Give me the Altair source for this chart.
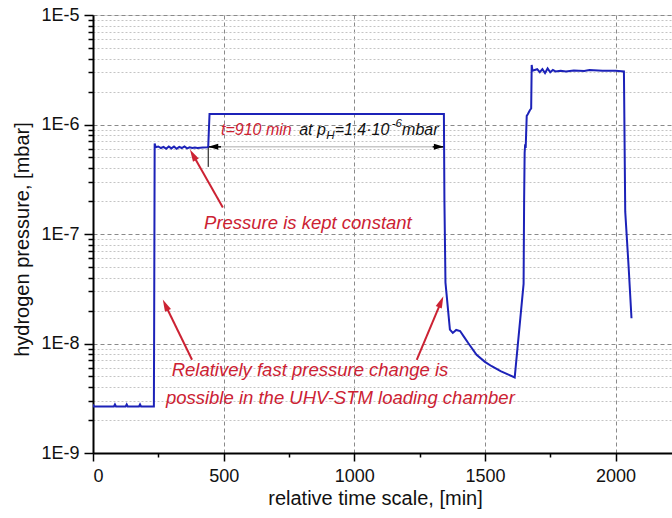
import math
import altair as alt
import pandas as pd

# ---------------- data ----------------
time_min = [0, 3, 80, 84, 88, 125, 129, 133, 176, 180, 184, 233, 234, 236, 240,
            250, 260, 270, 280, 290, 300, 310, 320, 330, 340, 350, 360, 370, 380,
            390, 400, 420, 438, 441, 446, 1343, 1345, 1349, 1366, 1377, 1390, 1405,
            1420, 1436, 1468, 1500, 1526, 1560, 1590, 1614, 1648, 1650, 1652, 1654,
            1656, 1660, 1664, 1672, 1677, 1679, 1682, 1700, 1710, 1720, 1730, 1740,
            1750, 1760, 1770, 1790, 1810, 1840, 1880, 1900, 1950, 2000, 2032, 2037,
            2050, 2061]
pressure_mbar = [2.78e-9, 2.66e-9, 2.66e-9, 2.78e-9, 2.66e-9, 2.66e-9, 2.78e-9, 2.66e-9,
                 2.66e-9, 2.78e-9, 2.66e-9, 2.66e-9, 1.3e-8, 6.7e-7, 6.2e-7,
                 6.3e-7, 6.1e-7, 6.25e-7, 6.0e-7, 6.3e-7, 6.05e-7, 6.3e-7, 6.0e-7,
                 6.25e-7, 6.1e-7, 6.3e-7, 6.05e-7, 6.2e-7, 6.1e-7, 6.15e-7, 6.1e-7,
                 6.15e-7, 6.2e-7, 6.3e-7, 1.25e-6, 1.25e-6, 2.0e-7, 3.6e-8, 1.34e-8,
                 1.25e-8, 1.33e-8, 1.3e-8, 1.15e-8, 1.01e-8, 7.9e-9, 6.8e-9, 6.2e-9,
                 5.6e-9, 5.2e-9, 4.9e-9, 3.5e-8, 2.0e-7, 5.5e-7, 6.6e-7, 6.1e-7,
                 1.2e-6, 1.24e-6, 1.35e-6, 1.4e-6, 3.5e-6, 3.1e-6, 3.2e-6, 3.0e-6,
                 3.2e-6, 2.95e-6, 3.25e-6, 3.0e-6, 3.15e-6, 3.05e-6, 3.1e-6, 3.05e-6,
                 3.12e-6, 3.08e-6, 3.15e-6, 3.1e-6, 3.1e-6, 3.05e-6, 1.6e-7, 5.0e-8,
                 1.7e-8]

x_ticks = [0, 250, 500, 750, 1000, 1250, 1500, 1750, 2000]
y_decades = [-9, -8, -7, -6, -5]
y_minor_mult = [2, 3, 4, 5, 6, 7, 8, 9]

# red arrows: tail (t, p) -> tip (t, p)
arrow_tail_t = [497, 379, 1239]
arrow_tail_p = [1.75e-7, 7.1e-9, 7.1e-9]
arrow_tip_t = [371, 267, 1341]
arrow_tip_p = [5.9e-7, 2.52e-8, 2.7e-8]

# duration arrow (t = 910 min)
span_start = 441
span_end = 1343
span_level = 6.25e-7

# annotation texts
red_texts = ["Pressure is kept constant",
             "Relatively fast pressure change is",
             "possible in the UHV-STM loading chamber"]
red_text_t = [425, 301, 279]
red_text_p = [1.12e-7, 5.03e-9, 2.83e-9]

dur_label = "t=910 min"
dur_t = 490
dur_p = 8.1e-7
note_parts = ["at p", "=1.4\u00b710", "mbar"]
note_t = [789, 925, 1183]
small_parts = ["H", "-6"]
small_t = [893, 1143]
small_p = [7.3e-7, 9.4e-7]

# ---------------- styling ----------------
BLUE = "#1c22b8"
RED = "#cc2233"
FONT = "Liberation Sans"
W, H = 579, 438
XMAX = 2216
kx = W / XMAX
ky = H / 4.0

y_values = []
for d in y_decades:
    y_values.append(10.0 ** d)
    if d < -5:
        for m in y_minor_mult:
            y_values.append(m * 10.0 ** d)

is_decade = "abs(log(datum.value)/LN10 - round(log(datum.value)/LN10)) < 0.001"
is_major_x = "datum.value % 500 == 0"

xscale = alt.Scale(domain=[0, XMAX], nice=False, zero=False)
yscale = alt.Scale(type="log", domain=[1e-9, 1e-5], nice=False)

xaxis = alt.Axis(
    values=x_ticks,
    labelExpr=f"({is_major_x}) ? format(datum.value, 'd') : ''",
    grid=True,
    gridColor="#8a8a8a",
    gridDash=[4, 3],
    gridWidth=1,
    gridOpacity={"condition": {"test": is_major_x, "value": 1}, "value": 0},
    tickSize={"condition": {"test": is_major_x, "value": 8}, "value": 4},
    tickColor="black",
    tickWidth=1.5,
    domainColor="black",
    domainWidth=2,
    labelFont=FONT,
    labelFontSize=18,
    labelColor="#111",
    labelPadding=6,
    titleFont=FONT,
    titleFontSize=20,
    titleFontWeight="normal",
    titleColor="#111",
    titleX=282,
    titleY=45,
    titleBaseline="middle",
)

yaxis = alt.Axis(
    values=y_values,
    labelExpr=f"({is_decade}) ? '1E' + round(log(datum.value)/LN10) : ''",
    grid=True,
    gridColor={"condition": {"test": is_decade, "value": "#8a8a8a"}, "value": "#c4c4c4"},
    gridDash={"condition": {"test": is_decade, "value": [4, 3]}, "value": [2, 2]},
    gridWidth=1,
    tickSize={"condition": {"test": is_decade, "value": 9}, "value": 5},
    tickColor="black",
    tickWidth=1.5,
    domainColor="black",
    domainWidth=2,
    labelFont=FONT,
    labelFontSize=18,
    labelColor="#111",
    labelPadding=5,
    titleFont=FONT,
    titleFontSize=20,
    titleFontWeight="normal",
    titleColor="#111",
    titleX=-71,
    titleY=224,
    titleBaseline="middle",
)


def X(field="t"):
    return alt.X(f"{field}:Q", scale=xscale, axis=xaxis, title="relative time scale, [min]")


def Y(field="p"):
    return alt.Y(f"{field}:Q", scale=yscale, axis=yaxis, title="hydrogen pressure, [mbar]")


series = pd.DataFrame({"t": time_min, "p": pressure_mbar})

line = alt.Chart(series).mark_line(color=BLUE, strokeWidth=2, clip=True).encode(
    x=X(), y=Y(), order="t:Q")

# --- duration arrow ---
span_df = pd.DataFrame({"t": [span_start], "t2": [span_end], "p": [span_level]})
span_line = alt.Chart(span_df).mark_rule(color="#c8c8c8", strokeWidth=1.5).encode(
    x=X(), x2="t2:Q", y=Y())

black_df = pd.DataFrame({"t": [span_start, 1300], "t2": [490, span_end],
                         "p": [span_level, span_level]})
black_seg = alt.Chart(black_df).mark_rule(color="black", strokeWidth=1.5).encode(
    x=X(), x2="t2:Q", y=Y())

vtick_df = pd.DataFrame({"t": [span_start], "p": [span_level], "p2": [4.1e-7]})
vtick = alt.Chart(vtick_df).mark_rule(color="black", strokeWidth=1).encode(
    x=X(), y=Y(), y2="p2:Q")

head_df = pd.DataFrame({"t": [span_start + 5 / kx, span_end - 5 / kx],
                        "p": [span_level, span_level], "ang": [0, 180]})
heads = alt.Chart(head_df).mark_point(
    shape="M-1,0L1,-0.6L1,0.6Z", filled=True, size=100, color="black", opacity=1
).encode(x=X(), y=Y(), angle=alt.Angle("ang:Q", scale=None))

# --- red arrows ---
rows = []
for tt, tp, ht, hp in zip(arrow_tail_t, arrow_tail_p, arrow_tip_t, arrow_tip_p):
    dx = (ht - tt) * kx
    dy_up = (math.log10(hp) - math.log10(tp)) * ky
    length = math.hypot(dx, dy_up)
    f = 6.0 / length
    ct = ht + f * (tt - ht)
    cp = 10 ** (math.log10(hp) + f * (math.log10(tp) - math.log10(hp)))
    ang = math.degrees(math.atan2(dx, dy_up)) % 360
    rows.append({"t": tt, "p": tp, "t2": ct, "p2": cp, "ang": ang})
arrow_df = pd.DataFrame(rows)

arrow_lines = alt.Chart(arrow_df).mark_rule(color=RED, strokeWidth=2).encode(
    x=X(), y=Y(), x2="t2:Q", y2="p2:Q")
arrow_heads = alt.Chart(arrow_df).mark_point(
    shape="M0,-1L0.55,1L-0.55,1Z", filled=True, size=144, color=RED, opacity=1
).encode(x=alt.X("t2:Q", scale=xscale, axis=xaxis, title="relative time scale, [min]"),
         y=alt.Y("p2:Q", scale=yscale, axis=yaxis, title="hydrogen pressure, [mbar]"),
         angle=alt.Angle("ang:Q", scale=None))

# --- texts ---
txt_df = pd.DataFrame({"t": red_text_t, "p": red_text_p, "label": red_texts})
red_txt = alt.Chart(txt_df).mark_text(
    align="left", baseline="alphabetic", font=FONT, fontSize=18.5,
    fontStyle="italic", color=RED
).encode(x=X(), y=Y(), text="label:N")

dur_df = pd.DataFrame({"t": [dur_t], "p": [dur_p], "label": [dur_label]})
dur_txt = alt.Chart(dur_df).mark_text(
    align="left", baseline="alphabetic", font=FONT, fontSize=16,
    fontStyle="italic", color=RED
).encode(x=X(), y=Y(), text="label:N")

blk_df = pd.DataFrame({"t": note_t, "p": [dur_p] * len(note_t), "label": note_parts})
blk_txt = alt.Chart(blk_df).mark_text(
    align="left", baseline="alphabetic", font=FONT, fontSize=16,
    fontStyle="italic", color="#111"
).encode(x=X(), y=Y(), text="label:N")

small_df = pd.DataFrame({"t": small_t, "p": small_p, "label": small_parts})
small_txt = alt.Chart(small_df).mark_text(
    align="left", baseline="alphabetic", font=FONT, fontSize=11.5,
    fontStyle="italic", color="#111"
).encode(x=X(), y=Y(), text="label:N")

chart = alt.layer(
    span_line, black_seg, vtick, heads, line, arrow_lines, arrow_heads,
    red_txt, dur_txt, blk_txt, small_txt
).properties(
    width=W, height=H,
    autosize=alt.AutoSizeParams(type="none"),
    padding={"left": 93, "top": 15, "right": 0, "bottom": 65},
).configure_view(stroke=None).configure(background="white")

chart.save("out.html", embed_options={"renderer": "svg", "actions": False})
